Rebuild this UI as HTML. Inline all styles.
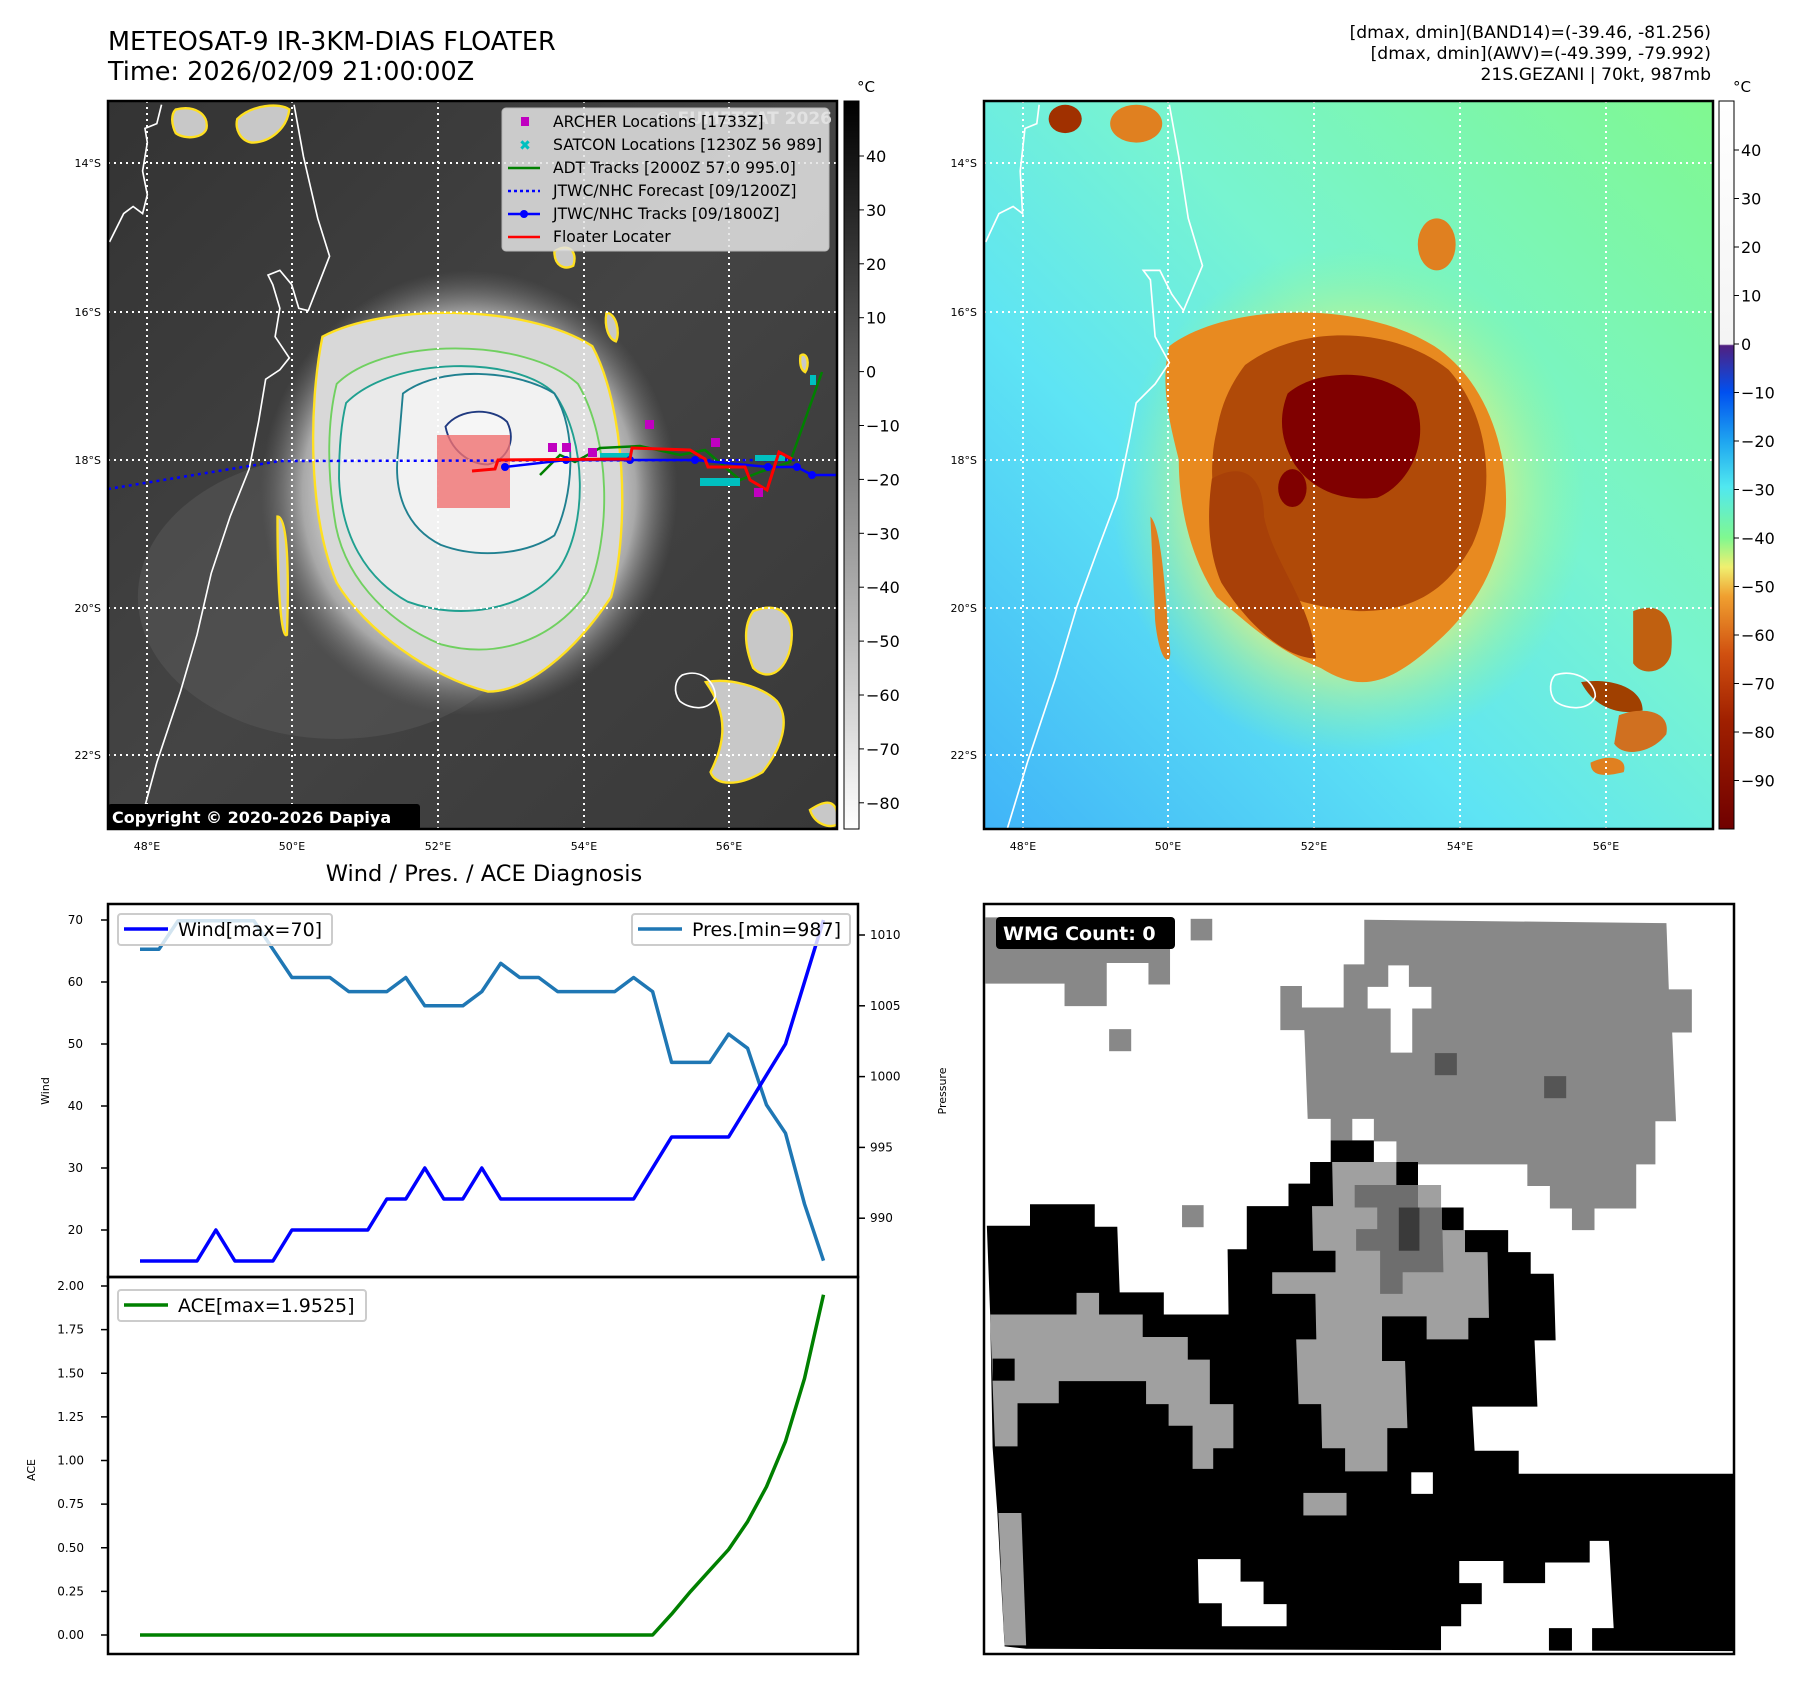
<!DOCTYPE html>
<html><head><meta charset="utf-8">
<style>
html,body{margin:0;padding:0;background:#fff;}
body{width:1801px;height:1690px;overflow:hidden;position:relative;font-family:"Liberation Sans","DejaVu Sans",sans-serif;}
svg text{font-family:"DejaVu Sans","Liberation Sans",sans-serif;}
</style></head>
<body>
<svg id="root" width="1801" height="1690" viewBox="0 0 1801 1690" xmlns="http://www.w3.org/2000/svg">
<defs>
  <linearGradient id="cb1" x1="0" y1="0" x2="0" y2="1">
    <stop offset="0" stop-color="#000"/><stop offset="1" stop-color="#fff"/>
  </linearGradient>
  <linearGradient id="cb2" x1="0" y1="0" x2="0" y2="1">
    <stop offset="0" stop-color="#ffffff"/>
    <stop offset="0.334" stop-color="#f4f4f4"/>
    <stop offset="0.336" stop-color="#502080"/>
    <stop offset="0.40" stop-color="#0050f0"/>
    <stop offset="0.47" stop-color="#20a8f0"/>
    <stop offset="0.53" stop-color="#50e8f0"/>
    <stop offset="0.60" stop-color="#80f890"/>
    <stop offset="0.64" stop-color="#f0f070"/>
    <stop offset="0.68" stop-color="#f0a030"/>
    <stop offset="0.76" stop-color="#d05010"/>
    <stop offset="0.85" stop-color="#a02000"/>
    <stop offset="1" stop-color="#700000"/>
  </linearGradient>
  <radialGradient id="ir" cx="0.5" cy="0.5" r="0.5">
    <stop offset="0" stop-color="#f4f4f4"/><stop offset="0.6" stop-color="#e0e0e0"/>
    <stop offset="0.8" stop-color="#a8a8a8"/><stop offset="1" stop-color="#707070" stop-opacity="0"/>
  </radialGradient>
  <linearGradient id="irbg" x1="0" y1="0" x2="1" y2="1">
    <stop offset="0" stop-color="#333"/><stop offset="0.5" stop-color="#444"/><stop offset="1" stop-color="#383838"/>
  </linearGradient>
  <linearGradient id="wvbg" x1="0" y1="1" x2="1" y2="0">
    <stop offset="0" stop-color="#40b4f8"/><stop offset="0.35" stop-color="#5ee4f4"/>
    <stop offset="0.6" stop-color="#78f4d0"/><stop offset="1" stop-color="#80f890"/>
  </linearGradient>
  <radialGradient id="wvhalo" cx="0.5" cy="0.5" r="0.5">
    <stop offset="0.6" stop-color="#e0f080"/><stop offset="1" stop-color="#90f890" stop-opacity="0"/>
  </radialGradient>
  <clipPath id="c1"><rect x="108" y="101" width="729" height="728"/></clipPath>
  <clipPath id="c2"><rect x="984" y="101" width="729" height="728"/></clipPath>
</defs>

<text x="108" y="50" font-size="25.5">METEOSAT-9 IR-3KM-DIAS FLOATER</text>
<text x="108" y="80" font-size="25.5">Time: 2026/02/09 21:00:00Z</text>
<g font-size="17.2" text-anchor="end">
  <text x="1711" y="38">[dmax, dmin](BAND14)=(-39.46, -81.256)</text>
  <text x="1711" y="59">[dmax, dmin](AWV)=(-49.399, -79.992)</text>
  <text x="1711" y="80">21S.GEZANI | 70kt, 987mb</text>
</g>

<!-- MAP 1 (IR) -->
<g clip-path="url(#c1)">
  <rect x="108" y="101" width="729" height="728" fill="url(#irbg)"/>
  <g transform="translate(100,100) scale(0.4733)">
    <ellipse cx="500" cy="1050" rx="420" ry="300" fill="#5a5a5a" opacity="0.5"/>
    <ellipse cx="780" cy="830" rx="440" ry="470" fill="url(#ir)"/>
    <path d="M470,500 C600,430 900,430 1040,520 C1110,650 1120,900 1080,1050 C1000,1170 900,1250 820,1250 C700,1220 560,1120 500,1020 C440,880 440,650 470,500Z" fill="#d8d8d8" stroke="#ffe020" stroke-width="5"/>
    <path d="M500,600 C600,500 900,500 1010,600 C1080,720 1080,920 1030,1040 C950,1150 830,1180 720,1150 C600,1100 510,1000 495,880 C480,780 480,680 500,600Z" fill="#e0e0e0" stroke="#70d060" stroke-width="4"/>
    <path d="M520,640 C620,540 880,540 960,620 C1030,720 1030,900 970,990 C900,1080 760,1100 650,1060 C560,1010 510,920 505,800 C505,730 510,680 520,640Z" fill="#eaeaea" stroke="#20a090" stroke-width="4"/>
    <path d="M640,620 C720,560 880,570 960,620 C1010,700 1000,840 960,920 C900,960 800,970 720,940 C640,900 620,820 630,740Z" fill="#f2f2f2" stroke="#208090" stroke-width="4"/>
    <path d="M730,690 C760,650 830,650 860,680 C880,720 860,760 820,770 C780,770 740,740 730,690Z" fill="#f6f6f6" stroke="#203a80" stroke-width="4"/>
    <g fill="#c8c8c8" stroke="#ffe020" stroke-width="5">
      <path d="M160,20 C200,10 230,30 225,60 C220,80 180,85 160,70 C150,50 150,30 160,20Z"/>
      <path d="M290,40 C320,10 380,5 400,20 C395,60 360,90 320,90 C295,85 285,60 290,40Z"/>
      <path d="M1380,1080 C1430,1060 1470,1080 1460,1150 C1450,1210 1410,1230 1380,1200 C1360,1150 1360,1110 1380,1080Z"/>
      <path d="M1280,1230 C1330,1220 1400,1240 1430,1270 C1460,1310 1440,1370 1400,1420 C1350,1450 1300,1450 1290,1420 C1320,1360 1330,1300 1280,1230Z"/>
      <path d="M960,320 C990,300 1010,320 1000,350 C980,360 960,350 960,320Z"/>
      <path d="M1070,450 C1090,450 1100,490 1090,510 C1075,505 1065,480 1070,450Z"/>
      <path d="M1480,540 C1495,530 1500,560 1490,575 C1480,570 1478,555 1480,540Z"/>
      <path d="M1500,1500 C1530,1480 1560,1470 1560,1530 C1540,1540 1510,1530 1500,1500Z"/>
      <path d="M375,880 C395,880 400,980 395,1130 C385,1140 375,1060 375,880Z"/>
    </g>
    <g fill="none" stroke="#fff" stroke-width="3.5">
      <path d="M75,1565 L120,1400 L170,1250 L205,1130 L235,1000 L275,880 L315,780 L335,680 L350,590 L380,570 L400,545 L370,500 L380,440 L365,390 L355,370 L380,360 L405,390 L420,440 L440,445 L485,330 L460,250 L430,120 L410,10"/>
      <path d="M20,300 L50,240 L70,225 L90,240 L100,200 L90,150 L100,90 L95,60 L120,50 L130,10"/>
      <path d="M1230,1215 C1270,1200 1300,1230 1300,1260 C1290,1290 1250,1290 1225,1270 C1210,1250 1215,1225 1230,1215Z"/>
    </g>
  </g>
  <g stroke="#fff" stroke-width="2" stroke-dasharray="2,4">
    <line x1="147" y1="101" x2="147" y2="829"/><line x1="292" y1="101" x2="292" y2="829"/><line x1="438" y1="101" x2="438" y2="829"/><line x1="584" y1="101" x2="584" y2="829"/><line x1="729" y1="101" x2="729" y2="829"/>
    <line x1="108" y1="163" x2="837" y2="163"/><line x1="108" y1="312" x2="837" y2="312"/><line x1="108" y1="460" x2="837" y2="460"/><line x1="108" y1="608" x2="837" y2="608"/><line x1="108" y1="755" x2="837" y2="755"/>
  </g>
  <rect x="437" y="435" width="73" height="73" fill="#f07070" opacity="0.8"/>
  <path d="M108,489 L280,461 L800,460" fill="none" stroke="#0000ff" stroke-width="2.5" stroke-dasharray="3,4"/>
  <path d="M540,475 L560,455 L575,462 L600,448 L640,446 L680,455 L705,450 L740,480 L760,472 L790,462 L822,372" fill="none" stroke="#008000" stroke-width="2.5"/>
  <g fill="#00c0c0">
    <rect x="600" y="453" width="30" height="6"/><rect x="700" y="478" width="40" height="8"/><rect x="755" y="455" width="30" height="6"/><rect x="810" y="375" width="6" height="10"/>
  </g>
  <path d="M505,467 L566,460 L630,460 L695,460 L768,467 L797,467 L812,475 L837,475" fill="none" stroke="#0000ff" stroke-width="2.5"/>
  <g fill="#0000ff">
    <circle cx="505" cy="467" r="4"/><circle cx="566" cy="460" r="4"/><circle cx="630" cy="460" r="4"/><circle cx="695" cy="460" r="4"/><circle cx="768" cy="467" r="4"/><circle cx="797" cy="467" r="4"/><circle cx="812" cy="475" r="4"/>
  </g>
  <path d="M472,471 L495,469 L498,460 L630,459 L632,448 L690,450 L705,459 L708,467 L745,467 L750,480 L767,490 L779,452 L792,459" fill="none" stroke="#ff0000" stroke-width="3"/>
  <g fill="#c000c0">
    <rect x="548" y="443" width="9" height="9"/><rect x="562" y="443" width="9" height="9"/><rect x="588" y="448" width="9" height="9"/><rect x="645" y="420" width="9" height="9"/><rect x="711" y="438" width="9" height="9"/><rect x="754" y="488" width="9" height="9"/>
  </g>
  <text x="832" y="124" font-size="17" font-weight="bold" fill="#ddd" text-anchor="end">© EUMETSAT 2026</text>
  <g>
    <rect x="502" y="108" width="327" height="143" rx="4" fill="#e4e4e4" opacity="0.85" stroke="#ccc"/>
    <rect x="521" y="117" width="8" height="9" fill="#c000c0"/>
    <text x="525" y="150" font-size="14" fill="#00c0c0" text-anchor="middle" font-weight="bold">✖</text>
    <line x1="508" y1="168" x2="540" y2="168" stroke="#008000" stroke-width="2.5"/>
    <line x1="508" y1="191" x2="540" y2="191" stroke="#0000ff" stroke-width="2.5" stroke-dasharray="3,3"/>
    <line x1="508" y1="214" x2="540" y2="214" stroke="#0000ff" stroke-width="2.5"/><circle cx="524" cy="214" r="4" fill="#0000ff"/>
    <line x1="508" y1="237" x2="540" y2="237" stroke="#ff0000" stroke-width="2.5"/>
    <g font-size="15.6" fill="#000">
      <text x="553" y="127">ARCHER Locations [1733Z]</text>
      <text x="553" y="150">SATCON Locations [1230Z 56 989]</text>
      <text x="553" y="173">ADT Tracks [2000Z 57.0 995.0]</text>
      <text x="553" y="196">JTWC/NHC Forecast [09/1200Z]</text>
      <text x="553" y="219">JTWC/NHC Tracks [09/1800Z]</text>
      <text x="553" y="242">Floater Locater</text>
    </g>
  </g>
  <rect x="108" y="804" width="312" height="26" rx="3" fill="#000"/>
  <text x="112" y="823" font-size="16" font-weight="bold" fill="#fff">Copyright © 2020-2026 Dapiya</text>
</g>
<rect x="108" y="101" width="729" height="728" fill="none" stroke="#000" stroke-width="2.5"/>

<!-- MAP 2 (WV) -->
<g clip-path="url(#c2)">
  <rect x="984" y="101" width="729" height="728" fill="url(#wvbg)"/>
  <g transform="translate(980,100) scale(0.4733)">
    <ellipse cx="780" cy="850" rx="500" ry="540" fill="url(#wvhalo)" opacity="0.8"/>
    <path d="M400,520 C520,430 800,420 960,520 C1080,600 1120,760 1110,880 C1090,1000 1040,1080 960,1150 C860,1240 800,1250 720,1200 C620,1160 560,1100 500,1050 C440,960 420,850 420,760 C400,680 380,600 400,520Z" fill="#e88a20"/>
    <path d="M360,880 C380,900 390,1000 400,1150 C410,1200 380,1200 370,1100Z" fill="#e08020"/>
    <path d="M560,560 C680,470 880,480 990,570 C1080,670 1090,830 1040,940 C980,1050 900,1080 800,1080 C680,1070 600,1040 540,980 C490,900 480,780 500,700 C510,640 530,600 560,560Z" fill="#b04a08"/>
    <path d="M490,800 C560,760 600,800 600,880 C620,980 700,1060 710,1180 C640,1180 560,1100 510,1020 C480,950 480,870 490,800Z" fill="#a84008"/>
    <path d="M650,620 C720,560 870,570 920,640 C950,720 910,810 840,840 C760,850 700,820 665,770 C635,720 630,670 650,620Z" fill="#800000"/>
    <ellipse cx="660" cy="820" rx="30" ry="40" fill="#800000"/>
    <ellipse cx="180" cy="40" rx="35" ry="30" fill="#a03000"/>
    <ellipse cx="330" cy="50" rx="55" ry="40" fill="#e08020"/>
    <ellipse cx="965" cy="305" rx="40" ry="55" fill="#e08020"/>
    <path d="M1380,1080 C1430,1060 1470,1080 1460,1170 C1450,1210 1400,1220 1380,1190Z" fill="#c06010"/>
    <path d="M1270,1230 C1330,1220 1400,1240 1400,1290 C1360,1300 1300,1290 1270,1230Z" fill="#a04000"/>
    <path d="M1350,1300 C1400,1280 1460,1290 1450,1340 C1420,1380 1360,1390 1340,1360Z" fill="#d07020"/>
    <path d="M1290,1400 C1330,1380 1370,1390 1360,1420 C1320,1430 1290,1430 1290,1400Z" fill="#e08020"/>
    <g fill="none" stroke="#fff" stroke-width="3.5">
      <path d="M50,1565 L100,1400 L160,1220 L205,1070 L245,960 L290,840 L315,720 L330,640 L370,600 L400,555 L370,500 L360,380 L345,360 L380,360 L405,410 L430,445 L470,350 L440,250 L420,120 L400,10"/>
      <path d="M12,300 L40,240 L70,225 L90,240 L85,150 L95,60 L120,50 L125,10"/>
      <path d="M1215,1215 C1260,1200 1300,1230 1300,1260 C1290,1290 1240,1290 1215,1270 C1200,1250 1205,1225 1215,1215Z"/>
    </g>
  </g>
  <g stroke="#fff" stroke-width="2" stroke-dasharray="2,4">
    <line x1="1023" y1="101" x2="1023" y2="829"/><line x1="1168" y1="101" x2="1168" y2="829"/><line x1="1314" y1="101" x2="1314" y2="829"/><line x1="1460" y1="101" x2="1460" y2="829"/><line x1="1606" y1="101" x2="1606" y2="829"/>
    <line x1="984" y1="163" x2="1713" y2="163"/><line x1="984" y1="312" x2="1713" y2="312"/><line x1="984" y1="460" x2="1713" y2="460"/><line x1="984" y1="608" x2="1713" y2="608"/><line x1="984" y1="755" x2="1713" y2="755"/>
  </g>
</g>
<rect x="984" y="101" width="729" height="728" fill="none" stroke="#000" stroke-width="2.5"/>

<g font-size="11" fill="#000" text-anchor="end">
  <text x="101" y="167">14°S</text><text x="101" y="316">16°S</text><text x="101" y="464">18°S</text><text x="101" y="612">20°S</text><text x="101" y="759">22°S</text>
  <text x="977" y="167">14°S</text><text x="977" y="316">16°S</text><text x="977" y="464">18°S</text><text x="977" y="612">20°S</text><text x="977" y="759">22°S</text>
</g>
<g font-size="11" fill="#000" text-anchor="middle">
  <text x="147" y="850">48°E</text><text x="292" y="850">50°E</text><text x="438" y="850">52°E</text><text x="584" y="850">54°E</text><text x="729" y="850">56°E</text>
  <text x="1023" y="850">48°E</text><text x="1168" y="850">50°E</text><text x="1314" y="850">52°E</text><text x="1460" y="850">54°E</text><text x="1606" y="850">56°E</text>
</g>

<g>
  <rect x="844" y="101" width="15" height="728" fill="url(#cb1)" stroke="#000" stroke-width="1"/>
  <text x="857" y="92" font-size="15">°C</text>
  <g id="cb1ticks" font-size="16"></g>
</g>
<g>
  <rect x="1719" y="101" width="15" height="728" fill="url(#cb2)" stroke="#000" stroke-width="1"/>
  <text x="1733" y="92" font-size="15">°C</text>
  <g id="cb2ticks" font-size="16"></g>
</g>

<g>
  <rect x="984" y="904" width="750" height="750" fill="#fff"/>
  <g transform="translate(983,903) scale(0.4796)">
    <path fill="#888" d="M5,30 L390,30 L390,170 L345,170 L345,125 L258,125 L258,215 L170,215 L170,168 L5,168Z"/>
    <rect fill="#888" x="433" y="33" width="45" height="45"/><rect fill="#888" x="263" y="263" width="46" height="46"/><rect fill="#888" x="415" y="630" width="45" height="46"/>
    <path fill="#888" d="M795,35 L1425,42 L1430,180 L1478,180 L1478,270 L1437,270 L1445,455 L1402,455 L1402,545 L1362,545 L1362,637 L1275,637 L1275,682 L1228,682 L1228,637 L1182,637 L1182,590 L1135,590 L1135,545 L862,545 L862,497 L815,497 L815,450 L770,450 L770,495 L725,495 L725,450 L677,450 L670,265 L620,265 L620,173 L665,173 L665,218 L752,218 L752,128 L795,128Z"/>
    <path fill="#fff" d="M845,130 L888,130 L888,175 L935,175 L935,220 L895,220 L895,312 L850,312 L850,220 L802,220 L802,175 L845,175Z"/>
    <rect fill="#555" x="942" y="313" width="46" height="46"/><rect fill="#555" x="1170" y="361" width="46" height="46"/>
    <path fill="#000" d="M8,673 L98,673 L98,628 L233,628 L233,675 L280,675 L285,812 L377,812 L377,858 L512,858 L510,722 L550,722 L550,632 L637,632 L637,585 L682,585 L682,540 L725,540 L725,495 L815,495 L815,540 L907,540 L907,588 L955,588 L955,635 L1002,635 L1002,682 L1095,682 L1095,728 L1142,728 L1142,773 L1190,773 L1194,912 L1150,912 L1156,1050 L1020,1050 L1025,1142 L1117,1142 L1117,1190 L1568,1190 L1568,1560 L90,1555 L45,1550 L30,1272 L20,1135 L15,860Z"/>
    <path fill="#a0a0a0" d="M15,858 L195,858 L195,813 L242,813 L242,858 L333,858 L333,905 L427,905 L427,952 L473,952 L473,1045 L522,1045 L522,1137 L480,1137 L480,1180 L437,1180 L437,1090 L387,1090 L387,1045 L340,1045 L340,997 L158,997 L158,1043 L72,1043 L72,1133 L25,1133 L18,950Z"/>
    <rect fill="#000" x="20" y="950" width="46" height="46"/>
    <path fill="#a0a0a0" d="M32,1272 L80,1272 L90,1548 L45,1548Z"/>
    <path fill="#a0a0a0" d="M728,540 L862,540 L862,588 L955,588 L955,682 L1005,682 L1005,728 L1052,728 L1055,865 L1012,865 L1012,910 L925,910 L925,862 L832,862 L832,955 L880,955 L885,1095 L843,1095 L843,1185 L755,1185 L755,1137 L707,1137 L705,1045 L658,1045 L653,910 L695,910 L693,815 L603,815 L603,770 L735,770 L735,725 L688,725 L686,632 L730,632Z"/>
    <rect fill="#a0a0a0" x="668" y="1230" width="90" height="47"/>
    <path fill="#6e6e6e" d="M775,588 L907,588 L907,635 L957,635 L960,770 L875,770 L875,815 L828,815 L828,725 L778,725 L778,680 L822,680 L822,635 L775,635Z"/>
    <rect fill="#3a3a3a" x="867" y="635" width="43" height="90"/>
    <rect fill="#000" x="862" y="542" width="45" height="46"/><rect fill="#000" x="957" y="635" width="45" height="45"/>
    <rect fill="#fff" x="893" y="1187" width="45" height="45"/>
    <path fill="#fff" d="M448,1368 L537,1368 L537,1415 L585,1415 L585,1462 L633,1462 L633,1508 L498,1508 L498,1460 L450,1460Z"/>
    <path fill="#fff" d="M993,1372 L1085,1372 L1085,1418 L1172,1418 L1172,1375 L1265,1375 L1265,1330 L1305,1330 L1315,1512 L1270,1512 L1270,1560 L1228,1560 L1228,1512 L1180,1512 L1180,1560 L955,1560 L955,1508 L997,1508 L997,1462 L1040,1462 L1040,1418 L993,1418Z"/>
  </g>
  <rect x="984" y="904" width="750" height="750" fill="none" stroke="#000" stroke-width="2.5"/>
  <rect x="996" y="917" width="179" height="32" rx="4" fill="#000"/>
  <text x="1003" y="940" font-size="19" font-weight="bold" fill="#fff">WMG Count: 0</text>
</g>

<text x="484" y="881" font-size="22.5" text-anchor="middle">Wind / Pres. / ACE Diagnosis</text>
<g id="chart"></g>
</svg>

<script>
const windValues = [15,15,15,15,20,15,15,15,20,20,20,20,20,25,25,30,25,25,30,25,25,25,25,25,25,25,25,30,35,35,35,35,40,45,50,60,70];
const presValues = [1009,1009,1011,1011,1011,1011,1011,1009,1007,1007,1007,1006,1006,1006,1007,1005,1005,1005,1006,1008,1007,1007,1006,1006,1006,1006,1007,1006,1001,1001,1001,1003,1002,998,996,991,987];
const aceValues = [0,0,0,0,0,0,0,0,0,0,0,0,0,0,0,0,0,0,0,0,0,0,0,0,0,0,0,0,0.12,0.25,0.37,0.49,0.65,0.85,1.11,1.47,1.95];
const windTicks = [20,30,40,50,60,70];
const presTicks = [990,995,1000,1005,1010];
const aceTicks = [0,0.25,0.5,0.75,1.0,1.25,1.5,1.75,2.0];
const cb1Ticks = [40,30,20,10,0,-10,-20,-30,-40,-50,-60,-70,-80];
const cb2Ticks = [40,30,20,10,0,-10,-20,-30,-40,-50,-60,-70,-80,-90];

const NS = 'http://www.w3.org/2000/svg';
function mk(tag, attrs, parent) {
  const e = document.createElementNS(NS, tag);
  for (const k in attrs) e.setAttribute(k, attrs[k]);
  parent.appendChild(e);
  return e;
}
const xScale = i => 140 + i * (683.5 / (windValues.length - 1));
const yWind = v => 920 + (70 - v) * 6.2;
const yPres = p => 935 + (1010 - p) * 14.16;
const yAce = a => 1635 - a * 174.5;
const cb1Y = v => 156 + (40 - v) * 5.39;
const cb2Y = v => 150 + (40 - v) * 4.85;

const chart = document.getElementById('chart');
let ax1 = mk('rect', {x:108, y:904, width:750, height:373, fill:'none', stroke:'#000', 'stroke-width':2.5}, chart);


let ax2 = mk('rect', {x:108, y:1277, width:750, height:377, fill:'none', stroke:'#000', 'stroke-width':2.5}, chart);



windTicks.forEach(t => {
  const y = yWind(t);
  const l = mk('line', {x1:101, x2:108, y1:y, y2:y, stroke:'#000', 'stroke-width':1.5}, chart);
  
  
  const tx = mk('text', {x:83, y:y+4, 'font-size':12, 'text-anchor':'end'}, chart);
  
  
  tx.textContent = t;
});
presTicks.forEach(t => {
  const y = yPres(t);
  const l = mk('line', {x1:858, x2:865, y1:y, y2:y, stroke:'#000', 'stroke-width':1.5}, chart);
  
  
  const tx = mk('text', {x:870, y:y+4, 'font-size':12}, chart);
  
  
  tx.textContent = t;
});
aceTicks.forEach(t => {
  const y = yAce(t);
  const l = mk('line', {x1:101, x2:108, y1:y, y2:y, stroke:'#000', 'stroke-width':1.5}, chart);
  
  
  const tx = mk('text', {x:84, y:y+4, 'font-size':12, 'text-anchor':'end'}, chart);
  
  
  tx.textContent = t.toFixed(2);
});
let t1 = mk('text', {x:0, y:0, 'font-size':11, 'text-anchor':'middle', transform:'translate(49,1091) rotate(-90)'}, chart);


t1.textContent = 'Wind';
let t2 = mk('text', {x:0, y:0, 'font-size':11, 'text-anchor':'middle', transform:'translate(946,1091) rotate(-90)'}, chart);


t2.textContent = 'Pressure';
let t3 = mk('text', {x:0, y:0, 'font-size':11, 'text-anchor':'middle', transform:'translate(35,1470) rotate(-90)'}, chart);


t3.textContent = 'ACE';

function line(vals, yf, color, name) {
  const d = vals.map((v, i) => (i ? 'L' : 'M') + xScale(i).toFixed(1) + ',' + yf(v).toFixed(1)).join(' ');
  const p = mk('path', {d: d, fill:'none', stroke: color, 'stroke-width':3.5, 'stroke-linejoin':'round'}, chart);
  
  
}
line(presValues, yPres, '#1f77b4', 'pressure-line');
line(windValues, yWind, '#0000ff', 'wind-line');
line(aceValues, yAce, '#008000', 'ace-line');

function legend(x, y, w, color, label, name) {
  const g = mk('g', {}, chart);
  
  
  mk('rect', {x:x, y:y, width:w, height:31, rx:3, fill:'#fff', 'fill-opacity':0.8, stroke:'#ccc', 'stroke-width':2}, g);
  mk('line', {x1:x+6, x2:x+50, y1:y+15, y2:y+15, stroke:color, 'stroke-width':3.5}, g);
  const t = mk('text', {x:x+60, y:y+22, 'font-size':19}, g);
  t.textContent = label;
}
legend(118, 914, 214, '#0000ff', 'Wind[max=' + Math.max(...windValues) + ']', 'wind-legend');
legend(632, 914, 218, '#1f77b4', 'Pres.[min=' + Math.min(...presValues) + ']', 'pressure-legend');
legend(118, 1290, 248, '#008000', 'ACE[max=1.9525]', 'ace-legend');

const cb1 = document.getElementById('cb1ticks');
cb1Ticks.forEach(t => {
  const y = cb1Y(t);
  mk('line', {x1:859, x2:864, y1:y, y2:y, stroke:'#000'}, cb1);
  const tx = mk('text', {x:866, y:y+6}, cb1);
  
  
  tx.textContent = t < 0 ? '\u2212' + (-t) : t;
});
const cb2 = document.getElementById('cb2ticks');
cb2Ticks.forEach(t => {
  const y = cb2Y(t);
  mk('line', {x1:1734, x2:1739, y1:y, y2:y, stroke:'#000'}, cb2);
  const tx = mk('text', {x:1741, y:y+6}, cb2);
  
  
  tx.textContent = t < 0 ? '\u2212' + (-t) : t;
});
</script>
</body></html>
